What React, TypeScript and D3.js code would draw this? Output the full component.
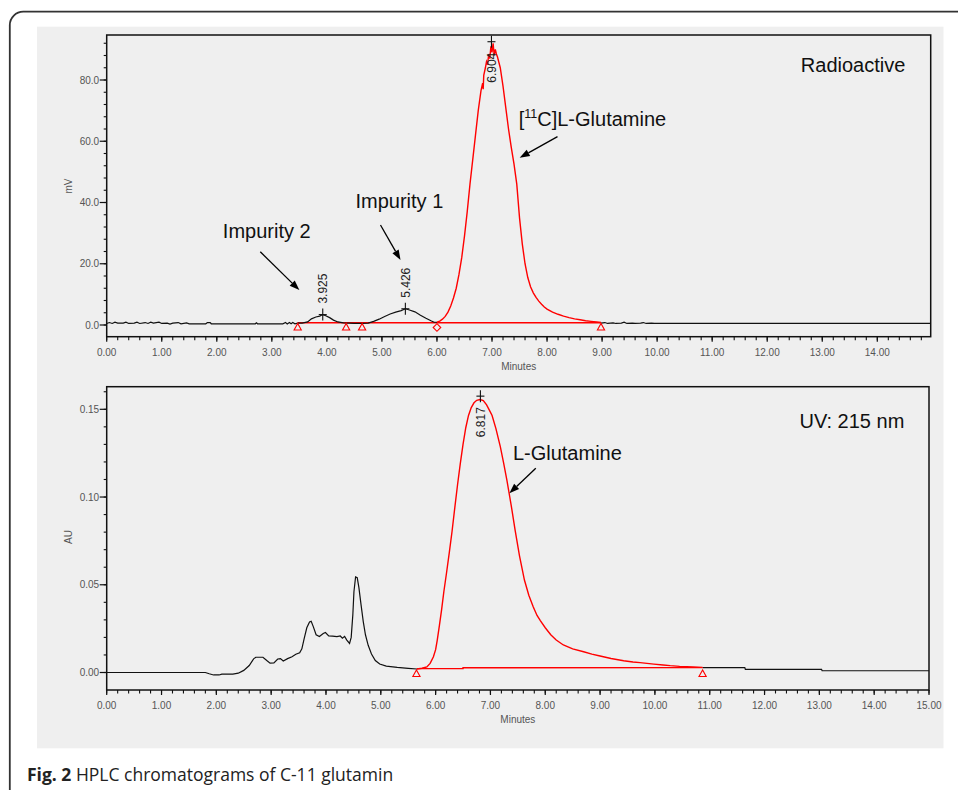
import React from 'react';
import * as d3 from 'd3';

type P = [number, number];

// ---------- Radioactive trace (mV vs minutes) ----------
const radioBlackA: P[] = [
  [0, 0.5], [0.05, 0.8], [0.1, 0.5], [0.15, 0.9], [0.2, 0.6], [0.3, 0.6], [0.35, 0.9], [0.4, 0.5],
  [0.5, 0.6], [0.55, 0.9], [0.6, 0.5], [0.7, 0.8], [0.75, 0.5], [0.8, 0.9], [0.85, 0.6], [0.95, 0.9],
  [1.0, 0.5], [1.1, 0.6], [1.15, 0.3], [1.2, 0.6], [1.3, 0.8], [1.35, 0.4], [1.45, 0.7], [1.5, 0.4],
  [1.6, 0.4], [1.8, 0.4], [1.83, 0.8], [1.88, 0.8], [1.9, 0.4], [2.7, 0.4], [2.72, 0.7], [2.74, 0.4],
  [3.2, 0.4], [3.25, 0.8], [3.28, 0.3], [3.32, 0.8], [3.35, 0.4], [3.38, 0.8], [3.42, 0.4], [3.47, 0.6],
  [3.55, 0.6], [3.65, 1.0], [3.72, 2.0], [3.8, 2.6], [3.87, 2.9], [3.925, 3.4], [3.98, 3.0], [4.05, 2.4],
  [4.12, 1.6], [4.2, 1.0], [4.3, 0.7], [4.4, 0.6], [4.5, 0.5], [4.64, 0.5], [4.75, 0.6], [4.85, 1.2],
  [4.95, 1.9], [5.05, 2.8], [5.15, 3.6], [5.25, 4.2], [5.35, 4.7], [5.426, 5.3], [5.5, 4.9], [5.6, 4.3],
  [5.7, 3.2], [5.8, 2.2], [5.9, 1.3], [5.95, 0.9], [6.0, 0.9],
];
const radioRed: P[] = [
  [6.0, 0.9], [6.05, 1.3], [6.1, 1.9], [6.15, 2.8], [6.2, 4.2], [6.25, 6.2], [6.3, 8.8], [6.35, 12],
  [6.4, 16.5], [6.45, 22], [6.5, 29], [6.55, 37], [6.6, 46], [6.65, 54], [6.7, 62], [6.75, 70],
  [6.8, 76.5], [6.83, 79], [6.84, 77], [6.85, 81.5], [6.88, 84], [6.9, 86], [6.92, 85], [6.94, 88.5],
  [6.96, 87], [6.98, 91], [7.0, 89], [7.02, 92], [7.04, 88], [7.06, 90], [7.08, 88.5], [7.1, 87.5],
  [7.15, 84], [7.2, 78], [7.25, 71], [7.3, 64], [7.35, 58], [7.4, 52.5], [7.45, 46], [7.5, 35],
  [7.55, 26.5], [7.6, 20], [7.65, 15.5], [7.7, 12.5], [7.75, 10.5], [7.8, 9], [7.85, 7.8], [7.9, 6.8],
  [7.95, 5.9], [8.0, 5.2], [8.1, 4.2], [8.2, 3.5], [8.3, 2.9], [8.4, 2.4], [8.5, 2.0], [8.6, 1.7],
  [8.7, 1.4], [8.8, 1.2], [8.9, 1.0], [8.98, 0.8],
];
const radioBlackB: P[] = [
  [8.98, 0.6], [9.05, 0.8], [9.1, 0.5], [9.2, 0.7], [9.25, 0.5], [9.35, 0.6], [9.4, 0.9], [9.45, 0.5],
  [9.55, 0.6], [9.6, 0.5], [9.7, 0.6], [9.75, 0.8], [9.8, 0.5], [9.9, 0.6], [9.95, 0.5], [14.97, 0.5],
];
const radioBaseline: P[] = [[3.47, 0.75], [8.98, 0.75]];
const radioTriangles: number[] = [3.47, 4.35, 4.64, 8.98];
const radioDiamonds: number[] = [6.0];
const radioPeaks = [
  { t: 3.925, v: 3.4, label: '3.925', below: false },
  { t: 5.426, v: 5.3, label: '5.426', below: false },
  { t: 6.99, v: 92.5, label: '6.904', below: true },
];

// ---------- UV trace (AU vs minutes) ----------
const uvBlackA: P[] = [
  [0, 0], [1.8, 0], [1.87, -0.0007], [1.95, -0.0014], [2.05, -0.0014], [2.1, -0.0009], [2.3, -0.0009],
  [2.4, -0.0004], [2.5, 0.0012], [2.6, 0.004], [2.68, 0.0078], [2.72, 0.0087], [2.85, 0.0087],
  [2.92, 0.0068], [2.98, 0.0053], [3.05, 0.0055], [3.12, 0.0077], [3.17, 0.0079], [3.22, 0.0066],
  [3.3, 0.0079], [3.38, 0.009], [3.45, 0.0104], [3.52, 0.0112], [3.56, 0.0135], [3.6, 0.019],
  [3.65, 0.0255], [3.7, 0.0288], [3.73, 0.0292], [3.77, 0.026], [3.82, 0.0215], [3.88, 0.0205],
  [3.95, 0.0222], [3.99, 0.0228], [4.05, 0.0209], [4.12, 0.0207], [4.2, 0.0205], [4.26, 0.0208],
  [4.3, 0.0195], [4.34, 0.0206], [4.38, 0.0185], [4.43, 0.0166], [4.46, 0.02], [4.49, 0.033],
  [4.51, 0.046], [4.54, 0.0545], [4.57, 0.054], [4.6, 0.0485], [4.64, 0.0385], [4.68, 0.029],
  [4.72, 0.0215], [4.77, 0.0155], [4.83, 0.0105], [4.9, 0.0068], [4.98, 0.0048], [5.1, 0.0036],
  [5.3, 0.0029], [5.5, 0.0024], [5.66, 0.002],
];
const uvRed: P[] = [
  [5.66, 0.002], [5.75, 0.0024], [5.84, 0.0032], [5.9, 0.0052], [5.96, 0.009], [6.0, 0.013],
  [6.03, 0.0185], [6.07, 0.027], [6.11, 0.036], [6.15, 0.046], [6.2, 0.057], [6.25, 0.0685],
  [6.3, 0.0805], [6.35, 0.094], [6.4, 0.107], [6.45, 0.119], [6.5, 0.13], [6.55, 0.1395],
  [6.6, 0.1465], [6.65, 0.151], [6.7, 0.1537], [6.75, 0.1551], [6.81, 0.1556], [6.87, 0.155],
  [6.93, 0.1525], [6.98, 0.1495], [7.03, 0.1465], [7.1, 0.139], [7.18, 0.1287], [7.24, 0.1195],
  [7.3, 0.1097], [7.38, 0.095], [7.45, 0.0812], [7.53, 0.0665], [7.62, 0.0527], [7.7, 0.044],
  [7.78, 0.0375], [7.85, 0.0325], [7.91, 0.0295], [8.0, 0.0255], [8.1, 0.0215], [8.2, 0.0185],
  [8.33, 0.0157], [8.5, 0.0135], [8.7, 0.0118], [8.85, 0.0105], [9.0, 0.0094], [9.2, 0.008],
  [9.43, 0.0067], [9.6, 0.006], [9.73, 0.0056], [9.98, 0.0048], [10.15, 0.0043], [10.28, 0.0039],
  [10.45, 0.0035], [10.58, 0.0033], [10.7, 0.0031], [10.87, 0.0029],
];
const uvBlackB: P[] = [
  [10.87, 0.0028], [11.64, 0.0028], [11.65, 0.0018], [13.04, 0.0018], [13.05, 0.001], [15, 0.001],
];
const uvBaseline: P[] = [[5.66, 0.0022], [6.5, 0.0022], [6.5, 0.0027], [10.87, 0.0028]];
const uvTriangles: number[] = [5.65, 10.87];
const uvPeaks = [{ t: 6.817, v: 0.1575, label: '6.817', below: true }];

// ---------- axis ticks ----------
const topXTicks = d3.range(0, 15, 1);
const topXMinor = d3.range(0, 14.9, 0.2);
const topYTicks = [0, 20, 40, 60, 80];
const topYMinor = d3.range(0, 94, 4);
const botXTicks = d3.range(0, 16, 1);
const botXMinor = d3.range(0, 15.01, 0.2);
const botYTicks = [0, 0.05, 0.1, 0.15];
const botYMinor = d3.range(0, 0.1605, 0.01);

const FONT = '"Liberation Sans", Arial, sans-serif';

function Arrow({ x1, y1, x2, y2 }: { x1: number; y1: number; x2: number; y2: number }) {
  const dx = x2 - x1, dy = y2 - y1;
  const len = Math.hypot(dx, dy);
  const ux = dx / len, uy = dy / len;
  const hl = 10, hw = 3.6;
  const bx = x2 - ux * hl, by = y2 - uy * hl;
  const pts = `${x2},${y2} ${bx - uy * hw},${by + ux * hw} ${bx + uy * hw},${by - ux * hw}`;
  return (
    <g>
      <line x1={x1} y1={y1} x2={bx} y2={by} stroke="#000" strokeWidth={1.3} />
      <polygon points={pts} fill="#000" />
    </g>
  );
}

interface PanelProps {
  x: d3.ScaleLinear<number, number>;
  y: d3.ScaleLinear<number, number>;
  top: number;
  bottom: number;
  xTicks: number[];
  xMinor: number[];
  yTicks: number[];
  yMinor: number[];
  yFmt: (n: number) => string;
  yTitle: string;
  yTitlePos: [number, number];
}

function Frame(p: PanelProps) {
  const [x0, x1] = p.x.range();
  const xf = d3.format('.2f');
  return (
    <g fontFamily={FONT}>
      <rect x={x0} y={p.top} width={x1 - x0} height={p.bottom - p.top} fill="none" stroke="#111" strokeWidth={1.5} />
      {p.xMinor.map((t, i) => (
        <line key={'xm' + i} x1={p.x(t)} x2={p.x(t)} y1={p.bottom} y2={p.bottom + 3.5} stroke="#111" strokeWidth={1.1} />
      ))}
      {p.xTicks.map((t) => (
        <g key={'xt' + t}>
          <line x1={p.x(t)} x2={p.x(t)} y1={p.bottom} y2={p.bottom + 5} stroke="#111" strokeWidth={1.2} />
          <text x={p.x(t)} y={p.bottom + 19} fontSize={10} fill="#555" textAnchor="middle">{xf(t)}</text>
        </g>
      ))}
      <text x={(x0 + x1) / 2} y={p.bottom + 33} fontSize={10} fill="#555" textAnchor="middle">Minutes</text>
      {p.yMinor.map((v, i) => (
        <line key={'ym' + i} x1={x0 - 3} x2={x0} y1={p.y(v)} y2={p.y(v)} stroke="#111" strokeWidth={1.1} />
      ))}
      {p.yTicks.map((v) => (
        <g key={'yt' + v}>
          <line x1={x0 - 7} x2={x0} y1={p.y(v)} y2={p.y(v)} stroke="#111" strokeWidth={1.2} />
          <text x={x0 - 7.5} y={p.y(v)} dy="0.35em" fontSize={10} fill="#555" textAnchor="end">{p.yFmt(v)}</text>
        </g>
      ))}
      <text
        transform={`translate(${p.yTitlePos[0]},${p.yTitlePos[1]}) rotate(-90)`}
        fontSize={10}
        fill="#555"
        textAnchor="middle"
        dy="0.35em"
      >
        {p.yTitle}
      </text>
    </g>
  );
}

function PeakLabel({ px, py, label, below }: { px: number; py: number; label: string; below: boolean }) {
  const ty = below ? py + 11 : py - 11;
  return (
    <g>
      <line x1={px} x2={px} y1={py - 6} y2={py + 6} stroke="#111" strokeWidth={1.1} />
      <line x1={px - 4} x2={px + 4} y1={py} y2={py} stroke="#111" strokeWidth={1.1} />
      <text
        transform={`translate(${px},${ty}) rotate(-90)`}
        dy="0.36em"
        fontSize={12}
        fontFamily={FONT}
        fill="#222"
        textAnchor={below ? 'end' : 'start'}
      >
        {label}
      </text>
    </g>
  );
}

function Triangle({ cx, cy }: { cx: number; cy: number }) {
  return (
    <polygon
      points={`${cx},${cy - 3.5} ${cx - 3.6},${cy + 3} ${cx + 3.6},${cy + 3}`}
      fill="none"
      stroke="#f00"
      strokeWidth={1.1}
    />
  );
}

function Diamond({ cx, cy }: { cx: number; cy: number }) {
  return (
    <polygon
      points={`${cx},${cy - 3.8} ${cx + 3.8},${cy} ${cx},${cy + 3.8} ${cx - 3.8},${cy}`}
      fill="none"
      stroke="#f00"
      strokeWidth={1.1}
    />
  );
}

export default function App() {
  const xTop = d3.scaleLinear().domain([0, 14.97]).range([106.7, 930.7]);
  const yTop = d3.scaleLinear().domain([0, 80]).range([325, 80]);
  const xBot = d3.scaleLinear().domain([0, 15]).range([106.7, 929]);
  const yBot = d3.scaleLinear().domain([0, 0.15]).range([672.5, 409.3]);

  const lineTop = d3.line<P>().x((d) => xTop(d[0])).y((d) => yTop(d[1]));
  const lineBot = d3.line<P>().x((d) => xBot(d[0])).y((d) => yBot(d[1]));

  const annFont = { fontFamily: FONT, fontSize: 20, fill: '#111' } as const;

  return (
    <svg
      width={958}
      height={790}
      viewBox="0 0 958 790"
      style={{ position: 'absolute', left: 0, top: 0, background: '#fff' }}
    >
      <rect x={0} y={0} width={958} height={790} fill="#fff" />
      {/* outer article frame */}
      <path d="M 9.8 800 L 9.8 25 A 13.5 13.5 0 0 1 23.3 11.7 L 970 11.7" fill="none" stroke="#333" strokeWidth={1.8} />
      {/* gray image panel */}
      <rect x={37} y={26.7} width={906.5} height={721.6} fill="#efefef" />

      {/* ---------- Top chart ---------- */}
      <Frame
        x={xTop}
        y={yTop}
        top={35}
        bottom={336.7}
        xTicks={topXTicks}
        xMinor={topXMinor}
        yTicks={topYTicks}
        yMinor={topYMinor}
        yFmt={d3.format('.1f')}
        yTitle="mV"
        yTitlePos={[68, 186]}
      />
      <path d={lineTop(radioBaseline) || ''} fill="none" stroke="#f00" strokeWidth={1.4} />
      <path d={lineTop(radioBlackA) || ''} fill="none" stroke="#111" strokeWidth={1.2} />
      <path d={lineTop(radioBlackB) || ''} fill="none" stroke="#111" strokeWidth={1.2} />
      <path d={lineTop(radioRed) || ''} fill="none" stroke="#f00" strokeWidth={1.4} />
      {radioTriangles.map((t) => (
        <Triangle key={'rt' + t} cx={xTop(t)} cy={yTop(0) + 2} />
      ))}
      {radioDiamonds.map((t) => (
        <Diamond key={'rd' + t} cx={xTop(t)} cy={yTop(0) + 2.5} />
      ))}
      {radioPeaks.map((p) => (
        <PeakLabel key={p.label} px={xTop(p.t)} py={yTop(p.v)} label={p.label} below={p.below} />
      ))}

      <text x={xTop(14.51)} y={yTop(82.7)} textAnchor="end" {...annFont}>Radioactive</text>
      <text x={xTop(7.485)} y={yTop(65)} {...annFont}>
        [<tspan fontSize={12.5} dy={-8}>11</tspan>
        <tspan dy={8}>C]L-Glutamine</tspan>
      </text>
      <Arrow x1={xTop(8.19)} y1={yTop(61.5)} x2={xTop(7.503)} y2={yTop(54.6)} />
      <text x={xTop(4.52)} y={yTop(38.2)} {...annFont}>Impurity 1</text>
      <Arrow x1={xTop(4.974)} y1={yTop(32.65)} x2={xTop(5.338)} y2={yTop(21.2)} />
      <text x={xTop(2.11)} y={yTop(28.4)} {...annFont}>Impurity 2</text>
      <Arrow x1={xTop(2.79)} y1={yTop(23.9)} x2={xTop(3.5)} y2={yTop(11.4)} />

      {/* ---------- Bottom chart ---------- */}
      <Frame
        x={xBot}
        y={yBot}
        top={386.7}
        bottom={690}
        xTicks={botXTicks}
        xMinor={botXMinor}
        yTicks={botYTicks}
        yMinor={botYMinor}
        yFmt={d3.format('.2f')}
        yTitle="AU"
        yTitlePos={[68, 537]}
      />
      <path d={lineBot(uvBaseline) || ''} fill="none" stroke="#f00" strokeWidth={1.4} />
      <path d={lineBot(uvBlackA) || ''} fill="none" stroke="#111" strokeWidth={1.2} />
      <path d={lineBot(uvBlackB) || ''} fill="none" stroke="#111" strokeWidth={1.2} />
      <path d={lineBot(uvRed) || ''} fill="none" stroke="#f00" strokeWidth={1.4} />
      {uvTriangles.map((t) => (
        <Triangle key={'ut' + t} cx={xBot(t)} cy={yBot(0) + 1} />
      ))}
      {uvPeaks.map((p) => (
        <PeakLabel key={p.label} px={xBot(p.t)} py={yBot(p.v)} label={p.label} below={p.below} />
      ))}
      <text x={xBot(14.55)} y={yBot(0.1393)} textAnchor="end" {...annFont}>UV: 215 nm</text>
      <text x={xBot(7.41)} y={yBot(0.1211)} {...annFont}>L-Glutamine</text>
      <Arrow x1={xBot(7.827)} y1={yBot(0.1164)} x2={xBot(7.345)} y2={yBot(0.1021)} />

      {/* caption */}
      <text x={27} y={781} fontFamily='"Open Sans", "Noto Sans", sans-serif' fontSize={17.5} fill="#222">
        <tspan fontWeight="bold">Fig. 2</tspan> HPLC chromatograms of C-11 glutamin
      </text>
    </svg>
  );
}
